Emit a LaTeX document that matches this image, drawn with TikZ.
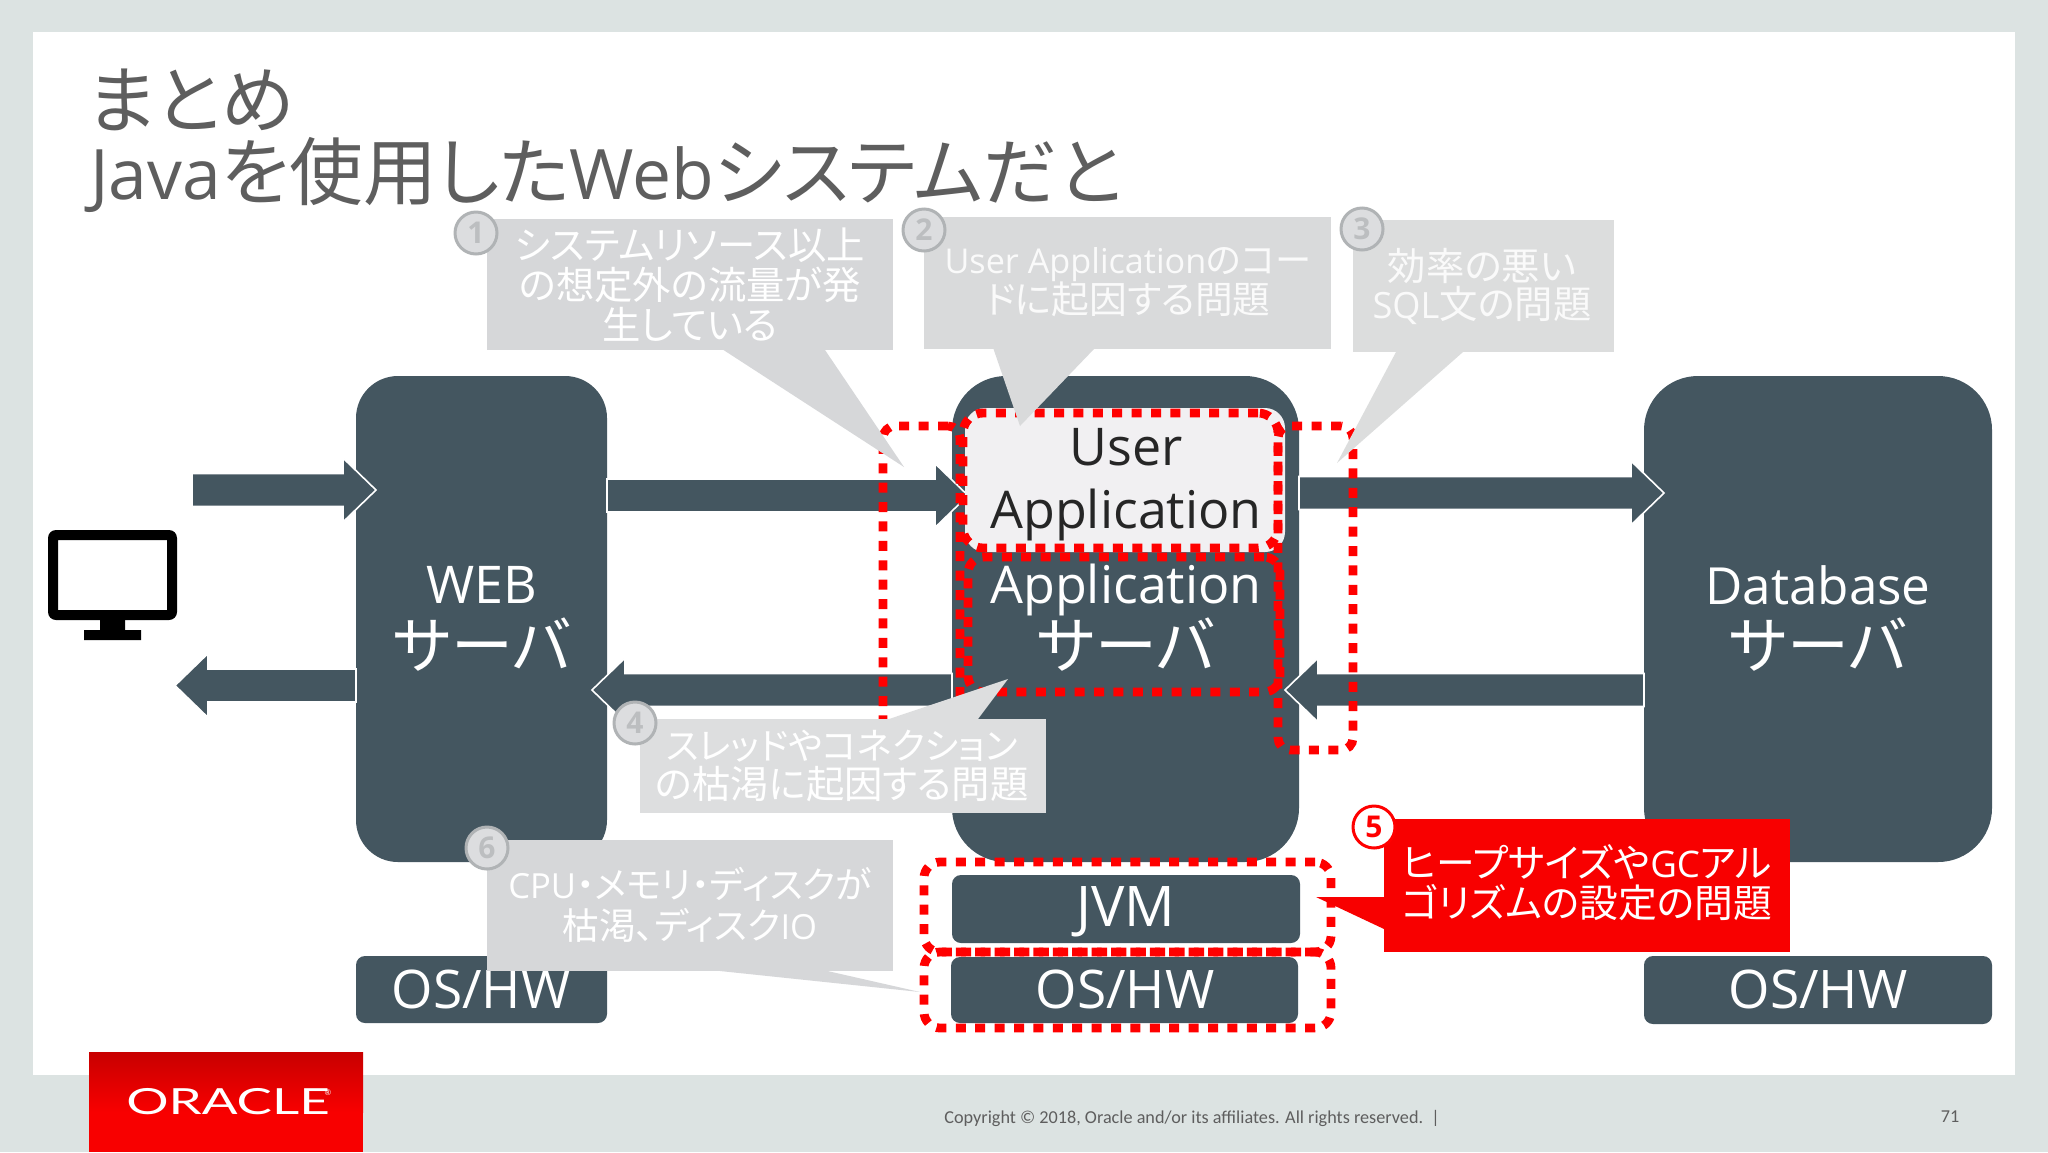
\documentclass[tikz,border=0pt]{standalone}
\usepackage{fontspec}
\setmainfont{Open Sans}
\newfontfamily\cjk{Noto Sans CJK JP}[RawFeature=+palt,Scale=1.06]
\newfontfamily\footfont{Carlito}
\newfontfamily\logofont{Lato}
\usetikzlibrary{calc}
\definecolor{slideback}{HTML}{DCE3E2}
\definecolor{slate}{HTML}{445660}
\definecolor{calloutgray}{HTML}{D6D7D9}
\definecolor{calloutb}{HTML}{D9DADB}
\definecolor{calloutc}{HTML}{DCDDDD}
\definecolor{calloutd}{HTML}{DDDEDF}
\definecolor{circlegray}{HTML}{DCDDDF}
\definecolor{ringgray}{HTML}{B0B3B5}
\definecolor{numgray}{HTML}{BCBEC0}
\definecolor{titlegray}{HTML}{5E5E5E}
\definecolor{orared}{HTML}{F80000}
\definecolor{oradark}{HTML}{C80000}
\definecolor{userfill}{HTML}{F1F0F2}
\newcommand\J[1]{{\cjk #1}}
\newcommand\fs[2]{\fontsize{#1}{#2}\selectfont}
% box node from its corners
\newcommand\cbox[6]{\node[#6,inner sep=0pt,outer sep=0pt,minimum width={(#4-#2)*0.5pt},minimum height={(#5-#3)*0.5pt}] (#1) at ({(#2+#4)/2},{(#3+#5)/2}) {};}
% block arrow between two points
\newcommand\blockarrow[2]{\draw[barrow] let \p1=(#1),\p2=(#2),\n1={ifthenelse(\x2>\x1,1,-1)} in
  (\x1,\y1+8.25pt) -- ({\x2-\n1*16.5pt},\y1+8.25pt) -- ({\x2-\n1*16.5pt},\y1+16pt) -- (\x2,\y1) --
  ({\x2-\n1*16.5pt},\y1-16pt) -- ({\x2-\n1*16.5pt},\y1-8.25pt) -- (\x1,\y1-8.25pt) -- cycle;}
\tikzset{
  x=0.5pt,y=-0.5pt,
  server/.style={fill=slate,rounded corners=27pt},
  webserver/.style={fill=slate,rounded corners=21pt},
  small box/.style={fill=slate,rounded corners=4.5pt},
  barrow/.style={fill=slate,draw=white,line width=0.8pt,line join=miter},
  redframe/.style={draw=red,line width=4.4pt,dash pattern=on 5pt off 4.7pt},
  callout/.style={fill=calloutgray},
  calloutB/.style={fill=calloutb},
  calloutC/.style={fill=calloutc},
  calloutD/.style={fill=calloutd},
  redcallout/.style={fill=orared},
  boxlabel/.style={text=white,font=\fs{26}{30},inner sep=0pt},
  srvlabel/.style={text=white,font=\fs{29.2}{30},inner sep=0pt},
  cotext/.style={text=white,align=center,inner sep=0pt},
  numcircle/.style={circle,draw=ringgray,fill=circlegray,line width=1.5pt,minimum size=21pt,inner sep=0pt,text=numgray,font=\fs{15}{15}\bfseries},
  rednum/.style={numcircle,draw=red,fill=white,text=red},
}
\begin{document}
\begin{tikzpicture}
\useasboundingbox (0,0) rectangle (2048,1152);
\fill[slideback] (0,0) rectangle (2048,1152);
\fill[white] (33,32) rectangle (2015,1075);
% title
\node[anchor=west,inner sep=0pt,text=titlegray,font=\fs{34.8}{37}] (title1) at (87,100) {\J{まとめ}};
\node[anchor=west,inner sep=0pt,text=titlegray,font=\fs{34.8}{37}] (title2) at (90,175) {Java\J{を使用した}Web\J{システムだと}};
% logo
\shade[top color=oradark,bottom color=orared] (89,1052) rectangle (363,1112);
\fill[orared] (89,1112) rectangle (363,1152);
\node[xscale=1.47,transform shape,inner sep=0pt,text=white,font=\logofont\fs{18}{18}] (oracle) at (228,1102) {ORACLE};
\node[inner sep=0pt,text=white,font=\logofont\fs{4}{4}] (oraclereg) at (328,1093) {®};
% footer
\node[inner sep=0pt,anchor=west,text=titlegray,font=\footfont\fs{9.1}{12}] (copyright) at (944,1118) {Copyright © 2018, Oracle and/or its affiliates. All rights reserved.\ \ |};
\node[inner sep=0pt,text=titlegray,font=\footfont\fs{9.1}{12}] (page) at (1950,1117) {71};
% monitor
\fill[black,rounded corners=4pt,even odd rule] (48,530) rectangle (177,620) [sharp corners] (58,540) rectangle (167,610);
\fill[black] (100,620) rectangle (125,630) (84,630) rectangle (141,640);
% servers
\cbox{web}{356}{376}{607}{862}{webserver}
\cbox{app}{952}{376}{1299}{862}{server}
\cbox{db}{1644}{376}{1992}{862}{server}
\cbox{jvm}{952}{875}{1300}{943}{small box}
\cbox{osweb}{356}{956}{607}{1023}{small box}
\cbox{osapp}{951}{957}{1298}{1023}{small box}
\cbox{osdb}{1644}{956}{1992}{1024}{small box}
% arrows
\coordinate (pcout) at (192,490);
\coordinate (webin) at (376,490);
\coordinate (dbin) at (1664,493);
\coordinate (webout) at (592,690);
\coordinate (pcin) at (175,685.5);
\blockarrow{pcout}{webin}
\blockarrow{web.east |- 0,495.5}{968,495.5}
\blockarrow{app.east |- 0,493}{dbin}
\blockarrow{db.west |- 0,690}{1285,690}
\blockarrow{app.west |- 0,690}{webout}
\blockarrow{web.west |- 0,685.5}{pcin}
% user application
\cbox{user}{965}{408}{1285}{552}{fill=userfill,rounded corners=10pt}
% labels
\node[boxlabel] (weblabel) at (482,585) {WEB};
\node[srvlabel] (websrv) at (482,645) {\J{サーバ}};
\node[boxlabel,text=black!85] (userlabel) at (1126,447) {User};
\node[boxlabel,text=black!85] (applabel) at (1126,515) {Application};
\node[boxlabel] (asapp) at (1126,590) {Application};
\node[srvlabel] (assrv) at (1126,645) {\J{サーバ}};
\node[boxlabel,font=\fs{25.6}{30}] (dblabel) at (1818,585) {Database};
\node[srvlabel] (dbsrv) at (1818,645) {\J{サーバ}};
\node[boxlabel,font=\fs{28}{30}] (jvmlabel) at (1126,912) {JVM};
\node[boxlabel,font=\fs{26.6}{30}] (oswl) at (481,989) {OS/HW};
\node[boxlabel,font=\fs{26.6}{30}] (osal) at (1125,989) {OS/HW};
\node[boxlabel,font=\fs{26.6}{30}] (osdl) at (1818,989) {OS/HW};
% red frames
\cbox{frameA}{883}{426}{960}{770}{redframe,rounded corners=6pt}
\cbox{frameD}{1278}{426}{1353}{750}{redframe,rounded corners=6pt}
\cbox{frameC}{968}{557}{1280}{692}{redframe,rounded corners=8pt}
\cbox{frameB}{963}{413}{1278}{548}{redframe,rounded corners=10pt}
\cbox{frameE}{924}{862}{1331}{952}{redframe,rounded corners=8pt}
\cbox{frameF}{924}{952}{1331}{1028}{redframe,rounded corners=8pt}
% callout 1
\cbox{co1}{487}{219}{893}{350}{callout}
\fill[callout] (723.5,350) -- (904,467) -- (825,350) -- cycle;
\node[cotext,font=\fs{18.1}{20}] (co1t) at (690,285) {\J{システムリソース以上}\\\J{の想定外の流量が発}\\\J{生している}};
\node[numcircle] (n1) at (476,233) {1};
% callout 2
\cbox{co2}{924}{217}{1331}{349}{calloutB}
\fill[calloutB] (993.5,349) -- (1020,426) -- (1094,349) -- cycle;
\node[cotext,font=\fs{17.8}{20},text=white!98!black] (co2t) at (1128,282) {{\fs{17.1}{20}User Application\J{のコー}}\\\J{ドに起因する問題}};
\node[numcircle] (n2) at (924,230) {2};
% callout 3
\cbox{co3}{1353}{220}{1614}{352}{calloutC}
\fill[calloutC] (1396,352) -- (1337,463) -- (1463,352) -- cycle;
\node[cotext,font=\fs{18.1}{19},text=white!98!black] (co3t) at (1482,286) {\J{効率の悪い}\\SQL\J{文の問題}};
\node[numcircle] (n3) at (1362,229) {3};
% callout 4
\cbox{co4}{640}{719}{1046}{813}{calloutD}
\fill[calloutD] (889,719) -- (1008,679) -- (978,719) -- cycle;
\node[cotext,font=\fs{18.1}{19.5}] (co4t) at (842,765.5) {{\fs{17.2}{19.5}\J{スレッドやコネクション}}\\\J{の枯渇に起因する問題}};
\node[numcircle] (n4) at (635,723) {4};
% callout 6
\cbox{co6}{487}{840}{893}{971}{callout}
\fill[callout] (720,971) -- (920,992) -- (827.5,971) -- cycle;
\node[cotext,font=\fs{17.3}{20.5}] (co6t) at (690,904.5) {CPU\J{・メモリ・ディスクが}\\\J{枯渇、ディスク}IO};
\node[numcircle] (n6) at (487,848) {6};
% callout 5
\cbox{co5}{1384}{819}{1790}{952}{redcallout}
\fill[redcallout] (1384,897) -- (1316,897) -- (1384,929) -- cycle;
\node[cotext,font=\fs{18.3}{20}] (co5t) at (1587,883) {\J{ヒープサイズや}GC\J{アル}\\\J{ゴリズムの設定の問題}};
\node[rednum] (n5) at (1374,827) {5};
\end{tikzpicture}
\end{document}
